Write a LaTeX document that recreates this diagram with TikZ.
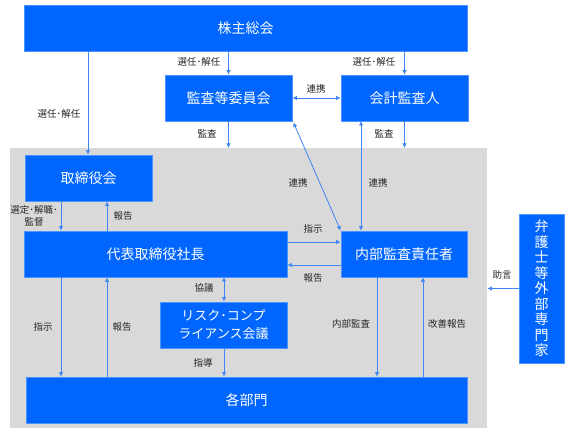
\documentclass[tikz,border=0pt]{standalone}
\usepackage{fontspec}
\setmainfont{Noto Sans CJK JP}
\usetikzlibrary{arrows.meta}
\definecolor{boxblue}{HTML}{0066FF}
\definecolor{boxedge}{HTML}{4D94FF}
\definecolor{arrblue}{HTML}{3F86F5}
\definecolor{bggray}{HTML}{D9D9D9}
\definecolor{lbl}{HTML}{262626}
\tikzset{
  orgbox/.style={fill=boxblue, draw=boxedge, line width=0.8pt, text=white,
    font=\fontsize{14}{16}\selectfont, inner sep=0pt, align=center},
  conn/.style={draw=arrblue, line width=0.8pt, -{Latex[length=4.5pt,width=4.5pt]}},
  bconn/.style={draw=arrblue, line width=0.8pt, {Latex[length=4.5pt,width=4.5pt]}-{Latex[length=4.5pt,width=4.5pt]}},
  lab/.style={text=lbl, font=\fontsize{9.5}{11.5}\selectfont, inner sep=0pt, align=center}
}
\begin{document}
\begin{tikzpicture}[x=1pt,y=-1pt]
\useasboundingbox (0,0) rectangle (573,430);
\fill[white] (0,0) rectangle (573,430);
% gray region
\node[fill=bggray, minimum width=477pt, minimum height=280pt, inner sep=0pt, anchor=north west] (bg) at (10,148) {};
% boxes
\node[orgbox, minimum width=443pt, minimum height=46pt] (kabu) at (245.5,28) {株主総会};
\node[orgbox, minimum width=127pt, minimum height=46pt] (kansa) at (228.5,98) {監査等委員会};
\node[orgbox, minimum width=127pt, minimum height=46pt] (kaikei) at (404.5,98) {会計監査人};
\node[orgbox, minimum width=127pt, minimum height=46pt] (tori) at (88.5,178) {取締役会};
\node[orgbox, minimum width=263pt, minimum height=46pt] (daihyo) at (155.5,254) {代表取締役社長};
\node[orgbox, minimum width=126pt, minimum height=46pt] (naibu) at (404,254) {内部監査責任者};
\node[orgbox, minimum width=127pt, minimum height=46pt, font=\fontsize{13}{18}\selectfont] (risk) at (223.5,325) {リスク･コンプ\\ライアンス会議};
\node[orgbox, minimum width=441pt, minimum height=46pt] (kakubu) at (246.5,400) {各部門};
\node[orgbox, minimum width=45pt, minimum height=149pt, font=\fontsize{14}{15.5}\selectfont] (ben) at (541.5,288.5) {弁\\護\\士\\等\\外\\部\\専\\門\\家};
% connectors from 株主総会
\draw[conn] (kabu.south -| tori.north) ++(-0.5,0) coordinate (k1) -- (k1 |- tori.north);
\node[lab] at (59,114) {選任･解任};
\draw[conn] (kabu.south -| kansa.north) -- (kansa.north);
\node[lab] at (199,62) {選任･解任};
\draw[conn] (kabu.south -| kaikei.north) -- (kaikei.north);
\node[lab] at (374,62) {選任･解任};
% 連携 between 監査等委員会 and 会計監査人
\draw[bconn] (kansa.east) -- (kaikei.west);
\node[lab] at (316,89) {連携};
% 監査
\draw[conn] (kansa.south) -- (kansa.south |- bg.north);
\node[lab] at (207,134) {監査};
\draw[conn] (kaikei.south) -- (kaikei.south |- bg.north);
\node[lab] at (384,134) {監査};
% 連携 to 内部監査責任者
\draw[bconn] (kansa.south east) ++(1,1) coordinate (d1) -- (naibu.north west);
\node[lab] at (298,183) {連携};
\coordinate (v1) at (361,121);
\draw[bconn] (v1) -- (v1 |- naibu.north);
\node[lab] at (378,183) {連携};
% 取締役会 <-> 代表取締役社長
\coordinate (t1) at (61,201);
\draw[conn] (t1) -- (t1 |- daihyo.north);
\node[lab] at (34,216) {選定･解職･\\監督};
\coordinate (t2) at (107,231);
\draw[conn] (t2) -- (t2 |- tori.south);
\node[lab] at (123,216) {報告};
% 代表 <-> 内部監査
\coordinate (h1) at (287,242);
\draw[conn] (h1) -- (h1 -| naibu.west);
\node[lab] at (313,229) {指示};
\coordinate (h2) at (341,265);
\draw[conn] (h2) -- (h2 -| daihyo.east);
\node[lab] at (313,278) {報告};
% 代表 <-> 各部門
\coordinate (b1) at (61,277);
\draw[conn] (b1) -- (b1 |- kakubu.north);
\node[lab] at (43,327) {指示};
\coordinate (b2) at (107,377);
\draw[conn] (b2) -- (b2 |- daihyo.south);
\node[lab] at (122,327) {報告};
% risk
\coordinate (r1) at (224,277);
\draw[bconn] (r1) -- (r1 |- risk.north);
\node[lab] at (204,288) {協議};
\coordinate (r2) at (224,348);
\draw[conn] (r2) -- (r2 |- kakubu.north);
\node[lab] at (203,363) {指導};
% 内部監査 <-> 各部門
\coordinate (n1) at (377,277);
\draw[conn] (n1) -- (n1 |- kakubu.north);
\node[lab] at (351,324) {内部監査};
\coordinate (n2) at (423,377);
\draw[conn] (n2) -- (n2 |- naibu.south);
\node[lab] at (447,324) {改善報告};
% 助言
\draw[conn] (ben.west) -- (ben.west -| bg.east);
\node[lab] at (502,275) {助言};
\end{tikzpicture}
\end{document}
